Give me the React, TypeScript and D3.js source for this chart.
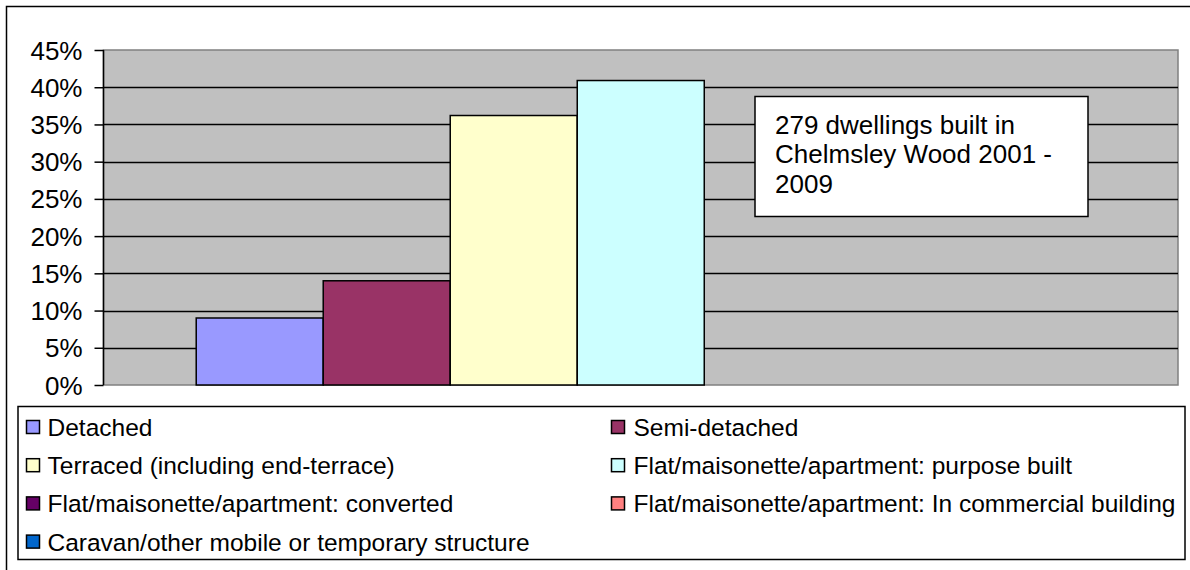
import React, { useRef, useEffect } from "react";
import * as d3 from "d3";

const series = [
  "Detached",
  "Semi-detached",
  "Terraced (including end-terrace)",
  "Flat/maisonette/apartment: purpose built",
  "Flat/maisonette/apartment: converted",
  "Flat/maisonette/apartment: In commercial building",
  "Caravan/other mobile or temporary structure",
];
const values = [0.09, 0.14, 0.362, 0.409, 0, 0, 0];
const colors = ["#9999FF", "#993366", "#FFFFCC", "#CCFFFF", "#660066", "#FF8080", "#0066CC"];
const yTicks = [0, 0.05, 0.1, 0.15, 0.2, 0.25, 0.3, 0.35, 0.4, 0.45];
const noteLines = ["279 dwellings built in", "Chelmsley Wood 2001 -", "2009"];

const FONT = "'Liberation Sans', Arial, sans-serif";

const App = () => {
  const svgRef = useRef<SVGSVGElement>(null);

  useEffect(() => {
    const svg = d3.select(svgRef.current);
    svg.selectAll("*").remove();

    const width = 1190;
    const height = 570;
    const plot = { left: 103.5, right: 1178, top: 50, bottom: 385 };

    svg.attr("width", width).attr("height", height);

    // outer chart frame (runs off the right and bottom edge)
    svg
      .append("rect")
      .attr("x", 6.5)
      .attr("y", 6.5)
      .attr("width", 1300)
      .attr("height", 700)
      .attr("fill", "#fff")
      .attr("stroke", "#000")
      .attr("stroke-width", 1.5);

    const y = d3.scaleLinear().domain([0, 0.45]).range([plot.bottom, plot.top]);
    const x = d3
      .scaleBand<string>()
      .domain(series)
      .range([plot.left, plot.right])
      .paddingInner(0)
      .paddingOuter(0.73);

    // plot area
    svg
      .append("rect")
      .attr("x", plot.left)
      .attr("y", plot.top)
      .attr("width", plot.right - plot.left)
      .attr("height", plot.bottom - plot.top)
      .attr("fill", "#C0C0C0")
      .attr("stroke", "#808080")
      .attr("stroke-width", 1.5);

    // gridlines
    svg
      .append("g")
      .selectAll("line")
      .data(yTicks.filter((t) => t > 0 && t < 0.45))
      .join("line")
      .attr("x1", plot.left)
      .attr("x2", plot.right)
      .attr("y1", (d) => Math.round(y(d)) + 0.5)
      .attr("y2", (d) => Math.round(y(d)) + 0.5)
      .attr("stroke", "#000")
      .attr("stroke-width", 1.5);

    // bars
    svg
      .append("g")
      .selectAll("rect")
      .data(series.filter((_, i) => values[i] > 0))
      .join("rect")
      .attr("x", (d) => x(d)!)
      .attr("y", (d) => y(values[series.indexOf(d)]))
      .attr("width", x.bandwidth())
      .attr("height", (d) => plot.bottom - y(values[series.indexOf(d)]))
      .attr("fill", (d) => colors[series.indexOf(d)])
      .attr("stroke", "#000")
      .attr("stroke-width", 1.5);

    // y axis
    const yAxis = svg
      .append("g")
      .attr("transform", `translate(${plot.left},0)`)
      .call(
        d3
          .axisLeft(y)
          .tickValues(yTicks)
          .tickFormat(d3.format(".0%"))
          .tickSize(9)
          .tickPadding(12)
      );
    yAxis.select(".domain").attr("stroke", "#000").attr("stroke-width", 1.5).attr("d", `M0,${plot.top}V${plot.bottom}`);
    yAxis.selectAll(".tick line").attr("stroke", "#000").attr("stroke-width", 1.5);
    yAxis
      .selectAll(".tick text")
      .attr("fill", "#000")
      .attr("font-family", FONT)
      .attr("font-size", 26)
      .attr("dy", "0.35em");

    // annotation box
    const note = svg.append("g");
    note
      .append("rect")
      .attr("x", 755)
      .attr("y", 96.5)
      .attr("width", 333)
      .attr("height", 120)
      .attr("fill", "#fff")
      .attr("stroke", "#000")
      .attr("stroke-width", 1.5);
    note
      .selectAll("text")
      .data(noteLines)
      .join("text")
      .attr("x", 775)
      .attr("y", (_, i) => 134 + i * 29.4)
      .attr("font-family", FONT)
      .attr("font-size", 26)
      .attr("fill", "#000")
      .text((d) => d);

    // legend
    const legend = svg.append("g");
    legend
      .append("rect")
      .attr("x", 18)
      .attr("y", 406.5)
      .attr("width", 1167)
      .attr("height", 153)
      .attr("fill", "#fff")
      .attr("stroke", "#000")
      .attr("stroke-width", 1.5);

    const colX = [26, 611];
    const item = legend
      .selectAll("g.item")
      .data(series)
      .join("g")
      .attr("class", "item")
      .attr(
        "transform",
        (_, i) => `translate(${colX[i % 2]},${420 + Math.floor(i / 2) * 38.2})`
      );
    item
      .append("rect")
      .attr("x", 0.5)
      .attr("y", 0.5)
      .attr("width", 13)
      .attr("height", 13)
      .attr("fill", (_, i) => colors[i])
      .attr("stroke", "#000")
      .attr("stroke-width", 1.5);
    item
      .append("text")
      .attr("x", (_, i) => (i % 2 === 0 ? 21.5 : 22.5))
      .attr("y", 16)
      .attr("font-family", FONT)
      .attr("font-size", 24.5)
      .attr("fill", "#000")
      .text((d) => d);
  }, []);

  return (
    <div style={{ position: "absolute", left: 0, top: 0 }}>
      <svg ref={svgRef} style={{ display: "block" }}></svg>
    </div>
  );
};

export default App;
